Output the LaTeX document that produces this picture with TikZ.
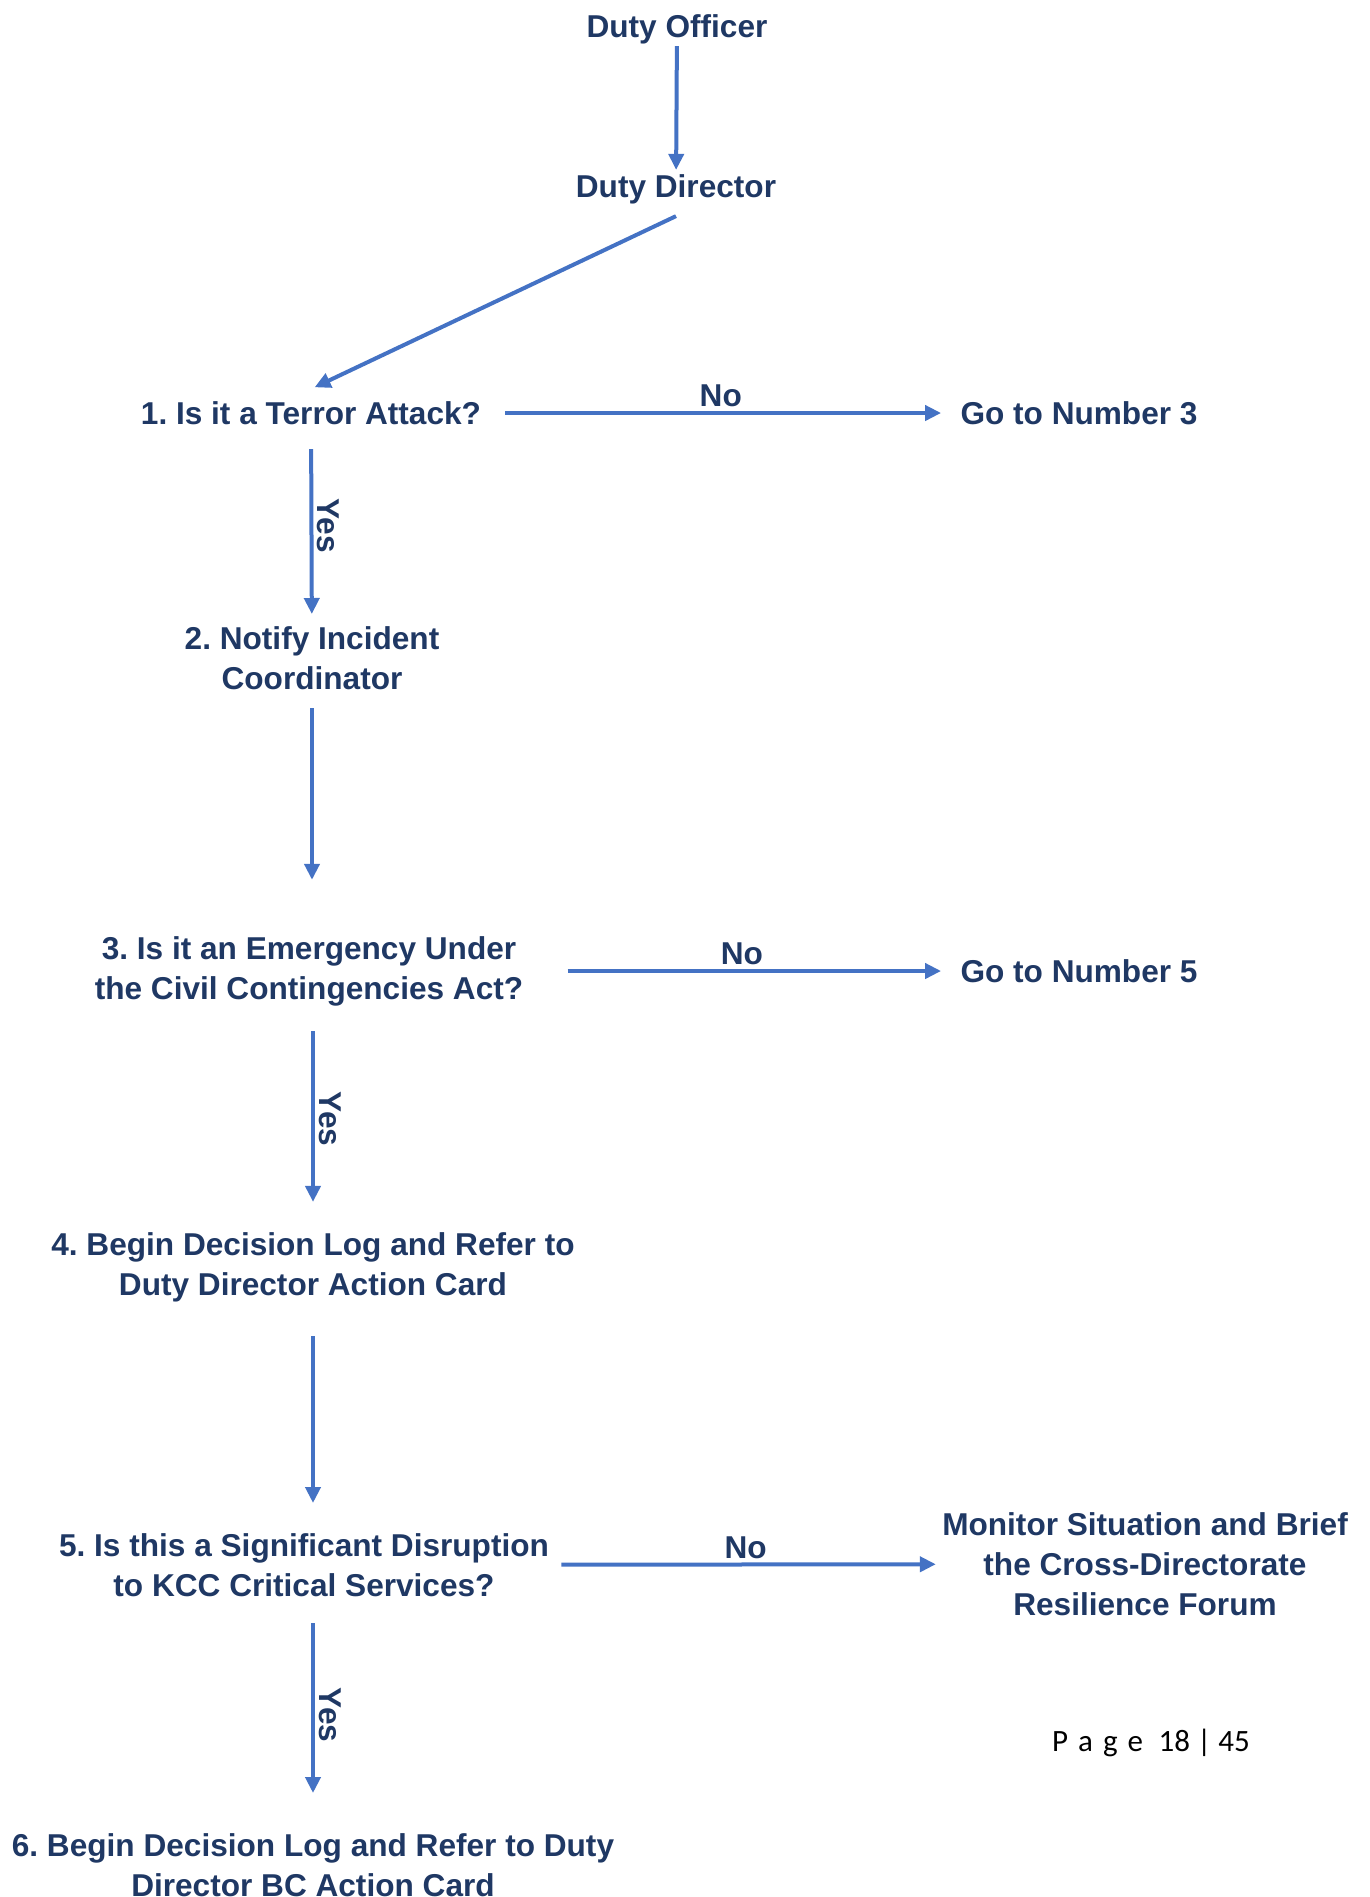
\documentclass[tikz,border=0pt]{standalone}
\usepackage{fontspec}
\setmainfont{Liberation Sans}
\newfontfamily\pagefont{Carlito}
\usepackage{xcolor}
\usetikzlibrary{arrows.meta}
\definecolor{textnavy}{HTML}{1F3864}
\definecolor{flowblue}{HTML}{4472C4}

\begin{document}
\begin{tikzpicture}[x = 0.5pt, y = -0.5pt,
        flowtext/.style = {text = textnavy, font = \fontsize{15.8}{20}\selectfont\bfseries\frenchspacing,
            align = center, inner sep = 6pt},
        answer/.style = {text = textnavy, font = \fontsize{15.8}{20}\selectfont\bfseries,
            inner sep = 2pt},
        flowarrow/.style = {draw = flowblue, line width = 2pt,
            -{Triangle[width = 7.5pt, length = 8pt]}}]
        \useasboundingbox (0, 0) rectangle (1370, 1897);

        \node[flowtext] (dutyofficer) at (677, 29) {Duty Officer};
        \node[flowtext] (dutydirector) at (676, 189) {Duty Director};

        \node[flowtext] (q1) at (311, 413) {1. Is it a Terror Attack?};
        \node[flowtext] (goto3) at (1079, 413) {Go to Number 3};
        \node[flowtext] (q2) at (312, 658) {2. Notify Incident\\Coordinator};
        \node[flowtext] (q3) at (309, 971) {3. Is it an Emergency Under\\the Civil Contingencies Act?};
        \node[flowtext] (goto5) at (1079, 971) {Go to Number 5};
        \node[flowtext] (q4) at (313, 1267) {4. Begin Decision Log and Refer to\\Duty Director Action Card};
        \node[flowtext] (q5) at (304, 1565) {5. Is this a Significant Disruption\\to KCC Critical Services?};
        \node[flowtext] (monitor) at (1145, 1564) {Monitor Situation and Brief\\the Cross-Directorate\\Resilience Forum};
        \node[flowtext] (q6) at (313, 1865) {6. Begin Decision Log and Refer to Duty\\Director BC Action Card};

        \draw[flowarrow, shorten <= -5pt, shorten >= -4pt] (dutyofficer) -- (dutydirector);
        \draw[flowarrow, shorten >= 2pt] (dutydirector.south) -- (q1.north);

        \draw[flowarrow, shorten <= 6pt, shorten >= 3.5pt] (q1) -- (goto3)
            node[answer, midway, above] (no1) {No};
        \draw[flowarrow, shorten <= 6pt] (q1) -- (q2)
            node[answer, midway, anchor = south, rotate = -90] (yes1) {Yes};
        \draw[flowarrow, shorten <= 3pt, shorten >= 22pt] (q2) -- (q2 |- q3.north);
        \draw[flowarrow, shorten <= 16pt, shorten >= 3.5pt] (q3) -- (goto5)
            node[answer, midway, above] (no3) {No};
        \draw[flowarrow, shorten <= 6.5pt, shorten >= 9pt] (q3.south -| q4) -- (q4)
            node[answer, midway, anchor = south, rotate = -90] (yes3) {Yes};
        \draw[flowarrow, shorten <= 11pt, shorten >= 9pt] (q4) -- (q4 |- q5.north);
        \draw[flowarrow, shorten >= -3pt] (q5) -- (monitor)
            node[answer, midway, above] (no5) {No};
        \draw[flowarrow, shorten <= 7pt, shorten >= 14pt] (q5.south -| q6) -- (q6)
            node[answer, midway, anchor = south, rotate = -90] (yes5) {Yes};

        \node[font = \pagefont\fontsize{15.5}{18}\selectfont] (pagenum) at (1151, 1743)
            {P\kern1.5pt\ a\kern1.5pt\ g\kern1.5pt\ e\hspace{0.5em}18 | 45};
\end{tikzpicture}
\end{document}
